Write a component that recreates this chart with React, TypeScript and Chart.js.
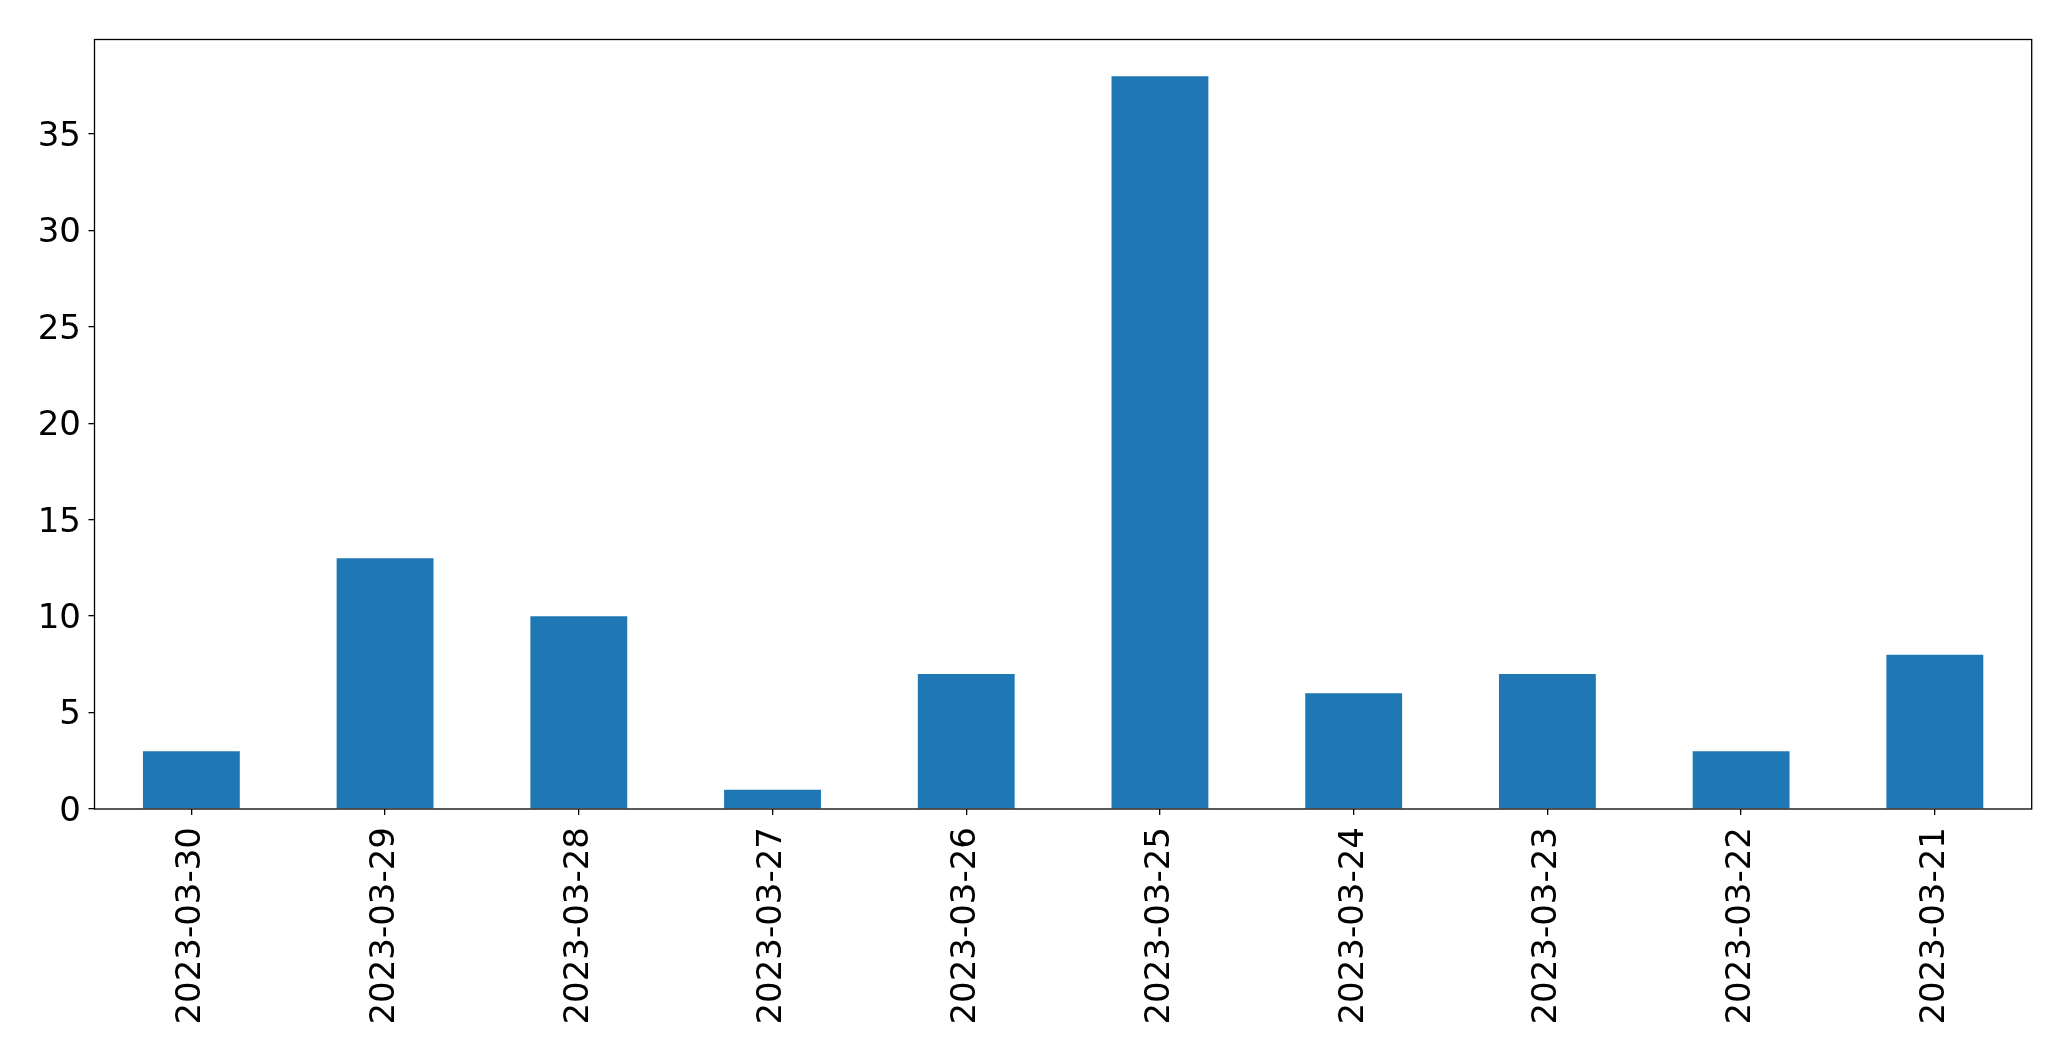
import React, { useEffect, useRef } from "react";
import { Chart, registerables } from "chart.js";

Chart.register(...registerables);

const categories = [
  "2023-03-30",
  "2023-03-29",
  "2023-03-28",
  "2023-03-27",
  "2023-03-26",
  "2023-03-25",
  "2023-03-24",
  "2023-03-23",
  "2023-03-22",
  "2023-03-21",
];
const counts = [3, 13, 10, 1, 7, 38, 6, 7, 3, 8];
const yTicks = [0, 5, 10, 15, 20, 25, 30, 35];
const yMax = 39.9;

const W = 2071;
const H = 1061;

const frame = {
  id: "frame",
  afterDatasetsDraw(chart: any) {
    const { ctx, chartArea } = chart;
    ctx.save();
    ctx.strokeStyle = "#000";
    ctx.lineWidth = 1.3;
    ctx.strokeRect(chartArea.left, chartArea.top, chartArea.right - chartArea.left, chartArea.bottom - chartArea.top);
    ctx.restore();
  },
};

export default function App() {
  const ref = useRef<HTMLCanvasElement>(null);
  useEffect(() => {
    if (!ref.current) return;
    const font = { family: "'DejaVu Sans'", size: 34 };
    const chart = new Chart(ref.current, {
      type: "bar",
      data: {
        labels: categories,
        datasets: [
          {
            data: counts,
            backgroundColor: "#1f77b4",
            barPercentage: 0.5,
            categoryPercentage: 1,
          },
        ],
      },
      plugins: [frame],
      options: {
        animation: false,
        responsive: false,
        maintainAspectRatio: false,
        devicePixelRatio: 1,
        layout: { padding: { left: 0, right: 39.3, top: 39.5, bottom: 0 } },
        plugins: { legend: { display: false }, tooltip: { enabled: false } },
        scales: {
          x: {
            offset: true,
            grid: { display: true, drawOnChartArea: false, offset: false, tickLength: 6, color: "#000", lineWidth: 1.3 },
            border: { display: false },
            ticks: { font, color: "#000", minRotation: 90, maxRotation: 90, padding: 12, autoSkip: false },
            afterFit: (s: any) => {
              s.height = H - 809;
            },
          },
          y: {
            min: 0,
            max: yMax,
            grid: { display: true, drawOnChartArea: false, tickLength: 6, color: "#000", lineWidth: 1.3 },
            border: { display: false },
            ticks: { font, color: "#000", padding: 7.5, labelOffset: 3 },
            afterBuildTicks: (s: any) => {
              s.ticks = yTicks.map((v) => ({ value: v }));
            },
            afterFit: (s: any) => {
              s.width = 94.5;
            },
          },
        },
      },
    });
    return () => chart.destroy();
  }, []);
  return (
    <div style={{ position: "fixed", left: 0, top: 0, width: W, height: H, background: "#fff" }}>
      <canvas ref={ref} width={W} height={H} style={{ width: W, height: H }} />
    </div>
  );
}
